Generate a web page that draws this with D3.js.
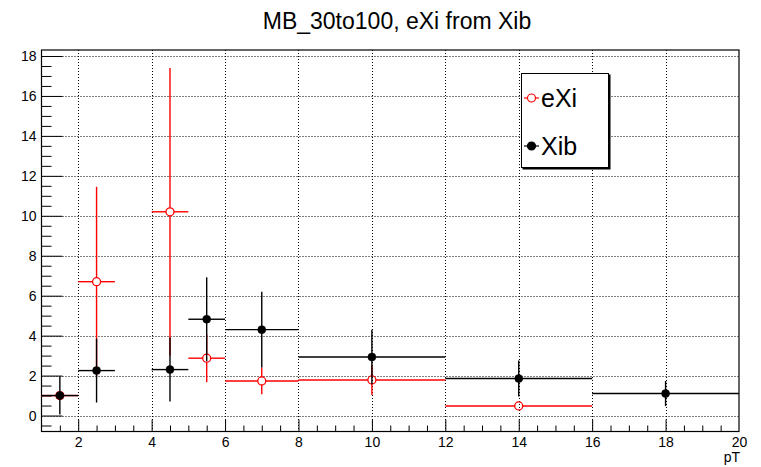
<!DOCTYPE html>
<html>
<head>
<meta charset="utf-8">
<script src="https://cdn.jsdelivr.net/npm/d3@7"></script>
<style>
  body { margin: 0; background: #fff; }
  svg { font-family: "Liberation Sans", Arial, sans-serif; }
</style>
</head>
<body>
<div id="container"></div>
<script>
'use strict';
(function() {
    // data
    var exiLow  = [1, 2, 4, 5, 6, 8, 12];
    var exiHigh = [2, 3, 5, 6, 8, 12, 16];
    var exiVals = [1.0, 6.7, 10.2, 2.87, 1.73, 1.78, 0.48];
    var exiErr  = [0.0, 4.75, 7.2, 1.2, 0.67, 0.75, 0.08];

    var xibLow  = [1, 2, 4, 5, 6, 8, 12, 16];
    var xibHigh = [2, 3, 5, 6, 8, 12, 16, 20];
    var xibVals = [1.0, 2.25, 2.3, 4.82, 4.3, 2.93, 1.85, 1.1];
    var xibErr  = [0.95, 1.6, 1.6, 2.1, 1.9, 1.37, 0.9, 0.63];

    var xTicks = [2, 4, 6, 8, 10, 12, 14, 16, 18, 20];
    var yTicks = [0, 2, 4, 6, 8, 10, 12, 14, 16, 18];
    var titleText = 'MB_30to100, eXi from Xib';
    var legendNames = ['eXi', 'Xib'];

    var W = 761, H = 467;
    var frame = {left: 41.5, right: 739, top: 50, bottom: 431.5};

    var svg = d3.select('#container').append('svg')
        .attr('width', W)
        .attr('height', H);

    var x = d3.scaleLinear().domain([1, 20]).range([frame.left, frame.right]);
    var y = d3.scaleLinear().domain([-0.8, 18.3]).range([frame.bottom, frame.top]);

    // grid
    var grid = svg.append('g').attr('class', 'grid')
        .attr('stroke', '#000')
        .attr('stroke-width', 1)
        .attr('stroke-dasharray', '1,2');
    xTicks.filter(function(t) { return t < 20; }).forEach(function(t) {
        grid.append('line')
            .attr('x1', Math.round(x(t)) + 0.5).attr('x2', Math.round(x(t)) + 0.5)
            .attr('y1', frame.top).attr('y2', frame.bottom);
    });
    yTicks.forEach(function(t) {
        grid.append('line')
            .attr('x1', frame.left).attr('x2', frame.right)
            .attr('y1', Math.round(y(t)) + 0.5).attr('y2', Math.round(y(t)) + 0.5);
    });

    // axes
    var xMinor = d3.range(1.5, 20, 0.5);
    svg.append('g')
        .attr('transform', 'translate(0,' + frame.bottom + ')')
        .call(d3.axisBottom(x).tickValues(xMinor).tickSize(-6).tickFormat(''))
        .call(function(g) {
            g.select('.domain').remove();
            g.selectAll('.tick line')
                .attr('y2', function(d) { return d % 2 === 0 ? -12 : -6; })
                .attr('stroke', '#000');
        });
    svg.append('g')
        .attr('transform', 'translate(0,' + frame.bottom + ')')
        .call(d3.axisBottom(x).tickValues(xTicks).tickSize(0).tickPadding(6))
        .call(function(g) {
            g.select('.domain').remove();
            g.selectAll('text').attr('font-size', 14).attr('fill', '#000')
                .attr('font-family', '"Liberation Sans", Arial, sans-serif');
        });

    var yMinor = d3.range(-0.5, 18.3, 0.5);
    svg.append('g')
        .attr('transform', 'translate(' + frame.left + ',0)')
        .call(d3.axisLeft(y).tickValues(yMinor).tickSize(-10).tickFormat(''))
        .call(function(g) {
            g.select('.domain').remove();
            g.selectAll('.tick line')
                .attr('x2', function(d) { return d % 2 === 0 ? 21 : 10; })
                .attr('stroke', '#000');
        });
    svg.append('g')
        .attr('transform', 'translate(' + frame.left + ',0)')
        .call(d3.axisLeft(y).tickValues(yTicks).tickSize(0).tickPadding(5))
        .call(function(g) {
            g.select('.domain').remove();
            g.selectAll('text').attr('font-size', 14).attr('fill', '#000')
                .attr('font-family', '"Liberation Sans", Arial, sans-serif');
        });

    // frame
    svg.append('rect')
        .attr('x', frame.left).attr('y', frame.top)
        .attr('width', frame.right - frame.left)
        .attr('height', frame.bottom - frame.top)
        .attr('fill', 'none')
        .attr('stroke', '#000')
        .attr('stroke-width', 1.2);

    // points with error bars
    function drawSeries(low, high, vals, errs, color, open) {
        var r = 4;
        var g = svg.append('g');
        vals.forEach(function(v, i) {
            var cx = x((low[i] + high[i]) / 2), cy = y(v);
            var gap = open ? r : 0;
            // horizontal
            g.append('line').attr('x1', x(low[i])).attr('x2', cx - gap)
                .attr('y1', cy).attr('y2', cy)
                .attr('stroke', color).attr('stroke-width', 1.4);
            g.append('line').attr('x1', cx + gap).attr('x2', x(high[i]))
                .attr('y1', cy).attr('y2', cy)
                .attr('stroke', color).attr('stroke-width', 1.4);
            // vertical
            if (y(v - errs[i]) - cy > gap) {
                g.append('line').attr('x1', cx).attr('x2', cx)
                    .attr('y1', cy + gap).attr('y2', y(v - errs[i]))
                    .attr('stroke', color).attr('stroke-width', 1.4);
                g.append('line').attr('x1', cx).attr('x2', cx)
                    .attr('y1', y(v + errs[i])).attr('y2', cy - gap)
                    .attr('stroke', color).attr('stroke-width', 1.4);
            }
            g.append('circle')
                .attr('cx', cx).attr('cy', cy).attr('r', r)
                .attr('fill', open ? 'none' : color)
                .attr('stroke', color)
                .attr('stroke-width', open ? 1.3 : 0.5);
        });
    }
    drawSeries(exiLow, exiHigh, exiVals, exiErr, '#ff0000', true);
    drawSeries(xibLow, xibHigh, xibVals, xibErr, '#000000', false);

    // title
    svg.append('text')
        .attr('x', 397).attr('y', 29)
        .attr('text-anchor', 'middle')
        .attr('font-size', 23)
        .text(titleText);

    // axis title
    svg.append('text')
        .attr('x', frame.right + 1).attr('y', 462)
        .attr('text-anchor', 'end')
        .attr('font-size', 14)
        .text('pT');

    // legend
    var leg = svg.append('g');
    leg.append('rect')
        .attr('x', 522.5).attr('y', 74.5)
        .attr('width', 88).attr('height', 95)
        .attr('fill', '#000');
    leg.append('rect')
        .attr('x', 521.5).attr('y', 73.5)
        .attr('width', 87).attr('height', 94)
        .attr('fill', '#fff').attr('stroke', '#000').attr('stroke-width', 1);
    var legColors = ['#ff0000', '#000000'];
    var legY = [98, 146];
    legendNames.forEach(function(name, i) {
        leg.append('line')
            .attr('x1', 524).attr('x2', 539)
            .attr('y1', legY[i]).attr('y2', legY[i])
            .attr('stroke', legColors[i]).attr('stroke-width', 1.2);
        leg.append('circle')
            .attr('cx', 531.5).attr('cy', legY[i]).attr('r', 4)
            .attr('fill', i === 0 ? '#fff' : '#000')
            .attr('stroke', legColors[i]).attr('stroke-width', 1.2);
        leg.append('text')
            .attr('x', 541).attr('y', legY[i] + 9)
            .attr('font-size', 25)
            .text(name);
    });
})();
</script>
</body>
</html>
